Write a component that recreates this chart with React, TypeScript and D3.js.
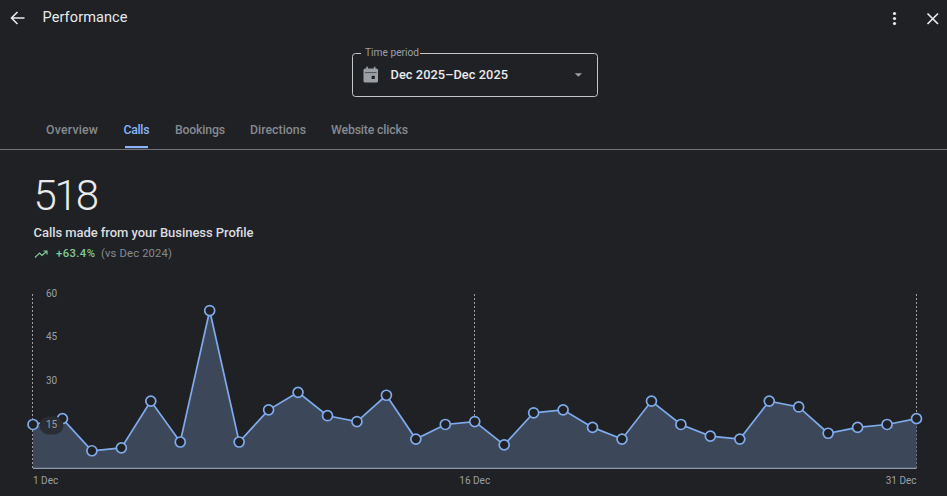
import React from "react";
import * as d3 from "d3";

const days = d3.range(1, 32);
const calls = [15, 17, 6, 7, 23, 9, 54, 9, 20, 26, 18, 16, 25, 10, 15, 16, 8, 19, 20, 14, 10, 23, 15, 11, 10, 23, 21, 12, 14, 15, 17];
const yTicks = [15, 30, 45, 60];
const xTicks = [
  { day: 1, label: "1 Dec", anchor: "start" },
  { day: 16, label: "16 Dec", anchor: "middle" },
  { day: 31, label: "31 Dec", anchor: "end" },
];
const tabs = [
  { label: "Overview", x: 46, w: 52 },
  { label: "Calls", x: 123.5, w: 26 },
  { label: "Bookings", x: 175, w: 50 },
  { label: "Directions", x: 250, w: 56 },
  { label: "Website clicks", x: 331, w: 77 },
];

const BG = "#202124";
const BLUE = "#7fabec";
const FONT = "Roboto, sans-serif";

export default function App() {
  const x = d3.scaleLinear().domain([1, 31]).range([33, 916.5]);
  const y = d3.scaleLinear().domain([0, 60]).range([468.3, 293]);
  const line = d3.line<number>().x((_, i) => x(days[i])).y((d) => y(d));
  const area = d3.area<number>().x((_, i) => x(days[i])).y0(y(0)).y1((d) => y(d));

  return (
    <svg
      width={947}
      height={496}
      viewBox="0 0 947 496"
      style={{ position: "fixed", left: 0, top: 0, display: "block", background: BG, fontFamily: FONT }}
    >
      <rect width={947} height={496} fill={BG} />

      {/* header */}
      <path d="M24.5 18 H11.5 M17.5 12 L11.5 18 L17.5 24" fill="none" stroke="#e8eaed" strokeWidth={1.6} />
      <text x={42.5} y={22} fontSize={14.5} fontWeight={400} fill="#e8eaed" textLength={85}>Performance</text>
      <circle cx={894.5} cy={13.5} r={1.6} fill="#e8eaed" />
      <circle cx={894.5} cy={18.5} r={1.6} fill="#e8eaed" />
      <circle cx={894.5} cy={23.5} r={1.6} fill="#e8eaed" />
      <path d="M927.5 13.5 L938 24 M938 13.5 L927.5 24" stroke="#e8eaed" strokeWidth={1.7} />

      {/* time period field */}
      <rect x={352.5} y={53.5} width={245} height={43} rx={3} fill="none" stroke="#c4c7c9" strokeWidth={1} />
      <rect x={361} y={48} width={59} height={10} fill={BG} />
      <text x={365} y={56} fontSize={10.2} fill="#9aa0a6">Time period</text>
      <rect x={363.5} y={68.5} width={14.5} height={14} rx={1.6} fill="#9aa0a6" />
      <rect x={366.3} y={66.7} width={1.6} height={3} fill="#9aa0a6" />
      <rect x={373.8} y={66.7} width={1.6} height={3} fill="#9aa0a6" />
      <rect x={365} y={72.2} width={11.5} height={0.9} fill={BG} opacity={0.7} />
      <rect x={371.6} y={75.8} width={3.2} height={3.2} fill={BG} />
      <text x={390.5} y={79} fontSize={12.8} fontWeight={500} fill="#e8eaed" textLength={117.5}>Dec 2025–Dec 2025</text>
      <path d="M574.8 73.2 H582 L578.4 76.8 Z" fill="#9aa0a6" />

      {/* tabs */}
      {tabs.map((t) => (
        <text
          key={t.label}
          x={t.x}
          y={133.5}
          fontSize={12.3}
          fontWeight={500}
          textLength={t.w}
          fill={t.label === "Calls" ? "#8ab4f8" : "#858a90"}
        >
          {t.label}
        </text>
      ))}
      <rect x={125} y={146} width={23} height={2.2} fill="#8ab4f8" />
      <rect x={0} y={149} width={947} height={1} fill="#6f7276" />

      {/* headline */}
      <text x={33.5} y={210} fontSize={42} fontWeight={300} fill="#e8eaed" textLength={65.5}>518</text>
      <text x={33.5} y={237} fontSize={13} fontWeight={500} fill="#dadce0" textLength={220}>Calls made from your Business Profile</text>
      <path d="M35 257.5 L39.5 253 L42 255.5 L46.5 251.5 M43.5 251 H47 V254.5" fill="none" stroke="#81c995" strokeWidth={1.2} />
      <text x={56} y={257} fontSize={11.3} fontWeight={500} fill="#81c995" textLength={39}>+63.4%</text>
      <text x={101} y={257} fontSize={11.3} fill="#858a90" textLength={71}>(vs Dec 2024)</text>

      {/* chart */}
      {xTicks.map((t) => (
        <line
          key={t.day}
          x1={Math.round(x(t.day)) - 0.5}
          x2={Math.round(x(t.day)) - 0.5}
          y1={294}
          y2={y(0)}
          stroke="#9aa0a6"
          strokeWidth={1}
          strokeDasharray="2 2"
        />
      ))}
      <path d={area(calls) ?? ""} fill="#3c4759" />
      <line x1={x(1)} x2={x(31)} y1={y(0)} y2={y(0)} stroke="#a9b6cc" strokeWidth={1} />
      <path d={line(calls) ?? ""} fill="none" stroke={BLUE} strokeWidth={1.7} />
      {calls.map((v, i) =>
        i === 1 ? (
          <circle key={i} cx={x(days[i])} cy={y(v)} r={5} fill={BG} stroke={BLUE} strokeWidth={1.7} />
        ) : null
      )}
      {yTicks.map((t) => (
        <g key={t}>
          {t === 15 && <rect x={39.5} y={y(t) - 8} width={24} height={18} rx={9} fill="#2a2d33" />}
          <text x={51.5} y={y(t)} dy="0.35em" textAnchor="middle" fontSize={10} fill="#9aa0a6">{t}</text>
        </g>
      ))}
      {calls.map((v, i) =>
        i === 1 ? null : (
          <circle key={i} cx={x(days[i])} cy={y(v)} r={5} fill={BG} stroke={BLUE} strokeWidth={1.7} />
        )
      )}
      {xTicks.map((t) => (
        <text
          key={t.label}
          x={x(t.day)}
          y={484}
          textAnchor={t.anchor as "start" | "middle" | "end"}
          fontSize={10}
          fill="#9aa0a6"
        >
          {t.label}
        </text>
      ))}
    </svg>
  );
}
